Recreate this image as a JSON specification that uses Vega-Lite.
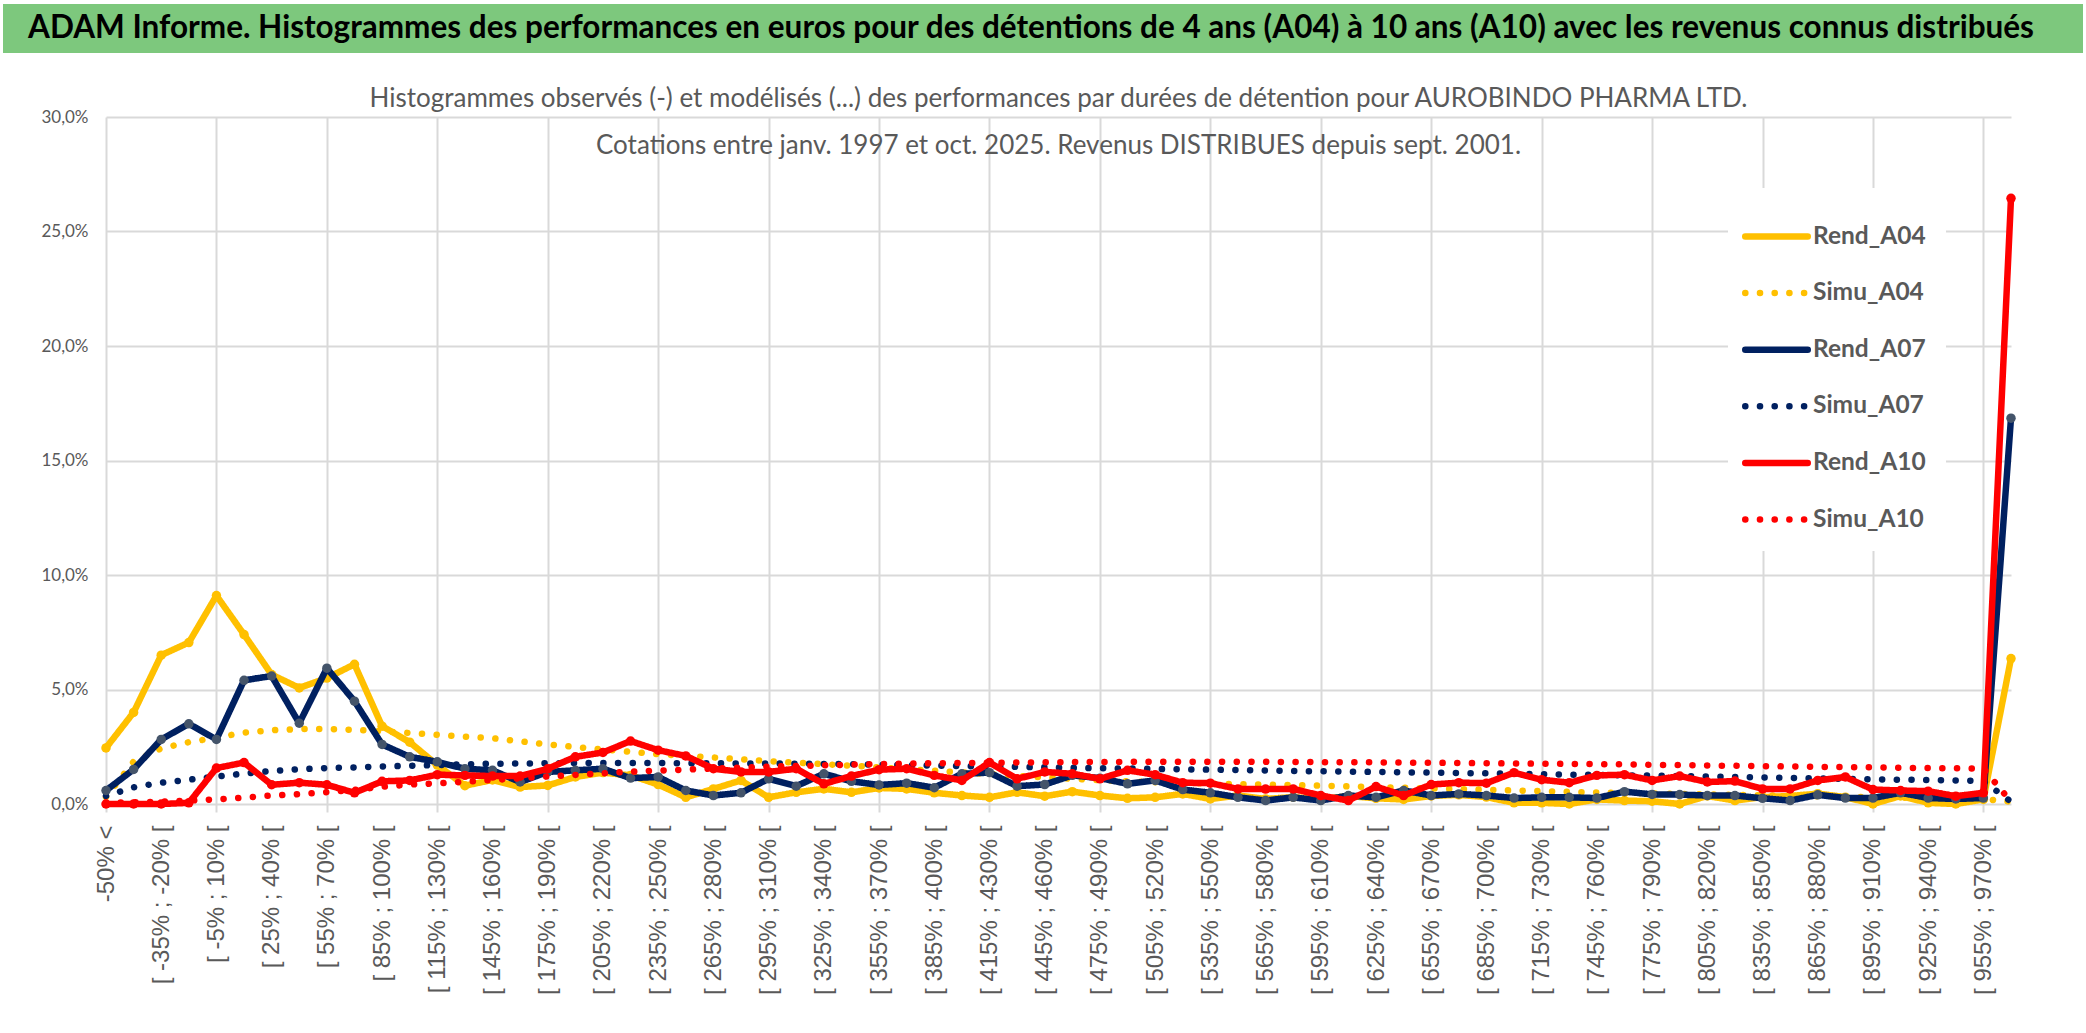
{
  "$schema": "https://vega.github.io/schema/vega-lite/v6.json",
  "background": "white",
  "padding": {"left": 3, "right": 3, "top": 4, "bottom": 5},
  "spacing": 33,
  "config": {
    "view": {"stroke": null},
    "font": "Lato",
    "line": {"strokeWidth": 6.5, "strokeCap": "round", "strokeJoin": "round"},
    "circle": {"size": 90, "opacity": 1},
    "legend": {
      "title": null,
      "padding": 20,
      "fillColor": "white",
      "symbolType": "M-1.25,0L1.25,0",
      "symbolSize": 2500,
      "symbolStrokeWidth": 6.5,
      "labelFont": "Lato",
      "labelFontSize": 24.5,
      "labelFontWeight": "bold",
      "labelColor": "#595959",
      "labelOffset": 8,
      "rowPadding": 16.6
    }
  },
  "vconcat": [
    {
      "width": 2080,
      "height": 49,
      "view": {"fill": "#7DC87D", "stroke": null},
      "data": {"values": [{"t": "ADAM Informe. Histogrammes des performances en euros pour des détentions de 4 ans (A04) à 10 ans (A10) avec les revenus connus distribués"}]},
      "mark": {"type": "text", "font": "Lato", "fontWeight": "bold", "fontSize": 31.5, "color": "black", "align": "center", "baseline": "middle", "dx": -12},
      "encoding": {"text": {"field": "t", "type": "nominal"}}
    },
    {
      "spacing": 8,
      "hconcat": [
        {
          "width": 1,
          "height": 1,
          "data": {"values": []},
          "mark": "rect"
        },
        {
          "width": 1905,
          "height": 687,
          "title": {
            "text": ["Histogrammes observés (-) et modélisés (...) des performances par durées de détention pour AUROBINDO PHARMA LTD.", "Cotations entre janv. 1997 et oct. 2025. Revenus DISTRIBUES depuis sept. 2001."],
            "font": "Lato",
            "fontSize": 26,
            "fontWeight": "normal",
            "color": "#595959",
            "lineHeight": 47,
            "anchor": "middle",
            "offset": -51
          },
          "data": {"values": [
            {"i": 0, "cat": "-50% <", "Rend_A04": 2.45, "Simu_A04": 0.3, "Rend_A07": 0.59, "Simu_A07": 0.35, "Rend_A10": 0, "Simu_A10": 0.05},
            {"i": 1, "cat": "[ -50% ; -35% [", "Rend_A04": 4.0, "Simu_A04": 1.85, "Rend_A07": 1.51, "Simu_A07": 0.73, "Rend_A10": 0, "Simu_A10": 0.08},
            {"i": 2, "cat": "[ -35% ; -20% [", "Rend_A04": 6.5, "Simu_A04": 2.43, "Rend_A07": 2.82, "Simu_A07": 0.93, "Rend_A10": 0, "Simu_A10": 0.1},
            {"i": 3, "cat": "[ -20% ; -5% [", "Rend_A04": 7.05, "Simu_A04": 2.7, "Rend_A07": 3.5, "Simu_A07": 1.06, "Rend_A10": 0.05, "Simu_A10": 0.15},
            {"i": 4, "cat": "[ -5% ; 10% [", "Rend_A04": 9.1, "Simu_A04": 2.9, "Rend_A07": 2.82, "Simu_A07": 1.2, "Rend_A10": 1.57, "Simu_A10": 0.2},
            {"i": 5, "cat": "[ 10% ; 25% [", "Rend_A04": 7.4, "Simu_A04": 3.12, "Rend_A07": 5.4, "Simu_A07": 1.33, "Rend_A10": 1.81, "Simu_A10": 0.28},
            {"i": 6, "cat": "[ 25% ; 40% [", "Rend_A04": 5.65, "Simu_A04": 3.22, "Rend_A07": 5.59, "Simu_A07": 1.44, "Rend_A10": 0.84, "Simu_A10": 0.37},
            {"i": 7, "cat": "[ 40% ; 55% [", "Rend_A04": 5.07, "Simu_A04": 3.27, "Rend_A07": 3.53, "Simu_A07": 1.52, "Rend_A10": 0.93, "Simu_A10": 0.43},
            {"i": 8, "cat": "[ 55% ; 70% [", "Rend_A04": 5.5, "Simu_A04": 3.27, "Rend_A07": 5.93, "Simu_A07": 1.57, "Rend_A10": 0.84, "Simu_A10": 0.52},
            {"i": 9, "cat": "[ 70% ; 85% [", "Rend_A04": 6.1, "Simu_A04": 3.24, "Rend_A07": 4.49, "Simu_A07": 1.6, "Rend_A10": 0.49, "Simu_A10": 0.62},
            {"i": 10, "cat": "[ 85% ; 100% [", "Rend_A04": 3.4, "Simu_A04": 3.17, "Rend_A07": 2.6, "Simu_A07": 1.64, "Rend_A10": 0.99, "Simu_A10": 0.75},
            {"i": 11, "cat": "[ 100% ; 115% [", "Rend_A04": 2.7, "Simu_A04": 3.1, "Rend_A07": 2.06, "Simu_A07": 1.67, "Rend_A10": 1.03, "Simu_A10": 0.85},
            {"i": 12, "cat": "[ 115% ; 130% [", "Rend_A04": 1.7, "Simu_A04": 3.02, "Rend_A07": 1.84, "Simu_A07": 1.7, "Rend_A10": 1.28, "Simu_A10": 0.9},
            {"i": 13, "cat": "[ 130% ; 145% [", "Rend_A04": 0.8, "Simu_A04": 2.94, "Rend_A07": 1.54, "Simu_A07": 1.73, "Rend_A10": 1.25, "Simu_A10": 0.97},
            {"i": 14, "cat": "[ 145% ; 160% [", "Rend_A04": 1.05, "Simu_A04": 2.87, "Rend_A07": 1.47, "Simu_A07": 1.76, "Rend_A10": 1.22, "Simu_A10": 1.05},
            {"i": 15, "cat": "[ 160% ; 175% [", "Rend_A04": 0.74, "Simu_A04": 2.74, "Rend_A07": 0.96, "Simu_A07": 1.77, "Rend_A10": 1.22, "Simu_A10": 1.12},
            {"i": 16, "cat": "[ 175% ; 190% [", "Rend_A04": 0.81, "Simu_A04": 2.6, "Rend_A07": 1.4, "Simu_A07": 1.78, "Rend_A10": 1.54, "Simu_A10": 1.2},
            {"i": 17, "cat": "[ 190% ; 205% [", "Rend_A04": 1.18, "Simu_A04": 2.49, "Rend_A07": 1.47, "Simu_A07": 1.79, "Rend_A10": 2.06, "Simu_A10": 1.27},
            {"i": 18, "cat": "[ 205% ; 220% [", "Rend_A04": 1.37, "Simu_A04": 2.38, "Rend_A07": 1.54, "Simu_A07": 1.79, "Rend_A10": 2.25, "Simu_A10": 1.34},
            {"i": 19, "cat": "[ 220% ; 235% [", "Rend_A04": 1.25, "Simu_A04": 2.28, "Rend_A07": 1.13, "Simu_A07": 1.79, "Rend_A10": 2.75, "Simu_A10": 1.41},
            {"i": 20, "cat": "[ 235% ; 250% [", "Rend_A04": 0.85, "Simu_A04": 2.18, "Rend_A07": 1.18, "Simu_A07": 1.79, "Rend_A10": 2.35, "Simu_A10": 1.46},
            {"i": 21, "cat": "[ 250% ; 265% [", "Rend_A04": 0.29, "Simu_A04": 2.1, "Rend_A07": 0.59, "Simu_A07": 1.78, "Rend_A10": 2.1, "Simu_A10": 1.5},
            {"i": 22, "cat": "[ 265% ; 280% [", "Rend_A04": 0.66, "Simu_A04": 2.03, "Rend_A07": 0.37, "Simu_A07": 1.78, "Rend_A10": 1.54, "Simu_A10": 1.55},
            {"i": 23, "cat": "[ 280% ; 295% [", "Rend_A04": 1.03, "Simu_A04": 1.95, "Rend_A07": 0.49, "Simu_A07": 1.77, "Rend_A10": 1.4, "Simu_A10": 1.59},
            {"i": 24, "cat": "[ 295% ; 310% [", "Rend_A04": 0.29, "Simu_A04": 1.87, "Rend_A07": 1.1, "Simu_A07": 1.77, "Rend_A10": 1.4, "Simu_A10": 1.63},
            {"i": 25, "cat": "[ 310% ; 325% [", "Rend_A04": 0.51, "Simu_A04": 1.8, "Rend_A07": 0.78, "Simu_A07": 1.76, "Rend_A10": 1.54, "Simu_A10": 1.66},
            {"i": 26, "cat": "[ 325% ; 340% [", "Rend_A04": 0.66, "Simu_A04": 1.74, "Rend_A07": 1.32, "Simu_A07": 1.75, "Rend_A10": 0.88, "Simu_A10": 1.69},
            {"i": 27, "cat": "[ 340% ; 355% [", "Rend_A04": 0.51, "Simu_A04": 1.67, "Rend_A07": 0.99, "Simu_A07": 1.74, "Rend_A10": 1.22, "Simu_A10": 1.72},
            {"i": 28, "cat": "[ 355% ; 370% [", "Rend_A04": 0.7, "Simu_A04": 1.6, "Rend_A07": 0.83, "Simu_A07": 1.72, "Rend_A10": 1.5, "Simu_A10": 1.74},
            {"i": 29, "cat": "[ 370% ; 385% [", "Rend_A04": 0.66, "Simu_A04": 1.52, "Rend_A07": 0.91, "Simu_A07": 1.7, "Rend_A10": 1.54, "Simu_A10": 1.76},
            {"i": 30, "cat": "[ 385% ; 400% [", "Rend_A04": 0.49, "Simu_A04": 1.45, "Rend_A07": 0.71, "Simu_A07": 1.68, "Rend_A10": 1.25, "Simu_A10": 1.78},
            {"i": 31, "cat": "[ 400% ; 415% [", "Rend_A04": 0.37, "Simu_A04": 1.38, "Rend_A07": 1.32, "Simu_A07": 1.66, "Rend_A10": 1.03, "Simu_A10": 1.79},
            {"i": 32, "cat": "[ 415% ; 430% [", "Rend_A04": 0.29, "Simu_A04": 1.3, "Rend_A07": 1.37, "Simu_A07": 1.64, "Rend_A10": 1.81, "Simu_A10": 1.8},
            {"i": 33, "cat": "[ 430% ; 445% [", "Rend_A04": 0.51, "Simu_A04": 1.23, "Rend_A07": 0.78, "Simu_A07": 1.62, "Rend_A10": 1.1, "Simu_A10": 1.81},
            {"i": 34, "cat": "[ 445% ; 460% [", "Rend_A04": 0.34, "Simu_A04": 1.16, "Rend_A07": 0.85, "Simu_A07": 1.6, "Rend_A10": 1.4, "Simu_A10": 1.82},
            {"i": 35, "cat": "[ 460% ; 475% [", "Rend_A04": 0.54, "Simu_A04": 1.1, "Rend_A07": 1.25, "Simu_A07": 1.58, "Rend_A10": 1.32, "Simu_A10": 1.83},
            {"i": 36, "cat": "[ 475% ; 490% [", "Rend_A04": 0.37, "Simu_A04": 1.04, "Rend_A07": 1.13, "Simu_A07": 1.56, "Rend_A10": 1.1, "Simu_A10": 1.83},
            {"i": 37, "cat": "[ 490% ; 505% [", "Rend_A04": 0.25, "Simu_A04": 0.99, "Rend_A07": 0.88, "Simu_A07": 1.55, "Rend_A10": 1.47, "Simu_A10": 1.84},
            {"i": 38, "cat": "[ 505% ; 520% [", "Rend_A04": 0.29, "Simu_A04": 0.95, "Rend_A07": 1.03, "Simu_A07": 1.53, "Rend_A10": 1.28, "Simu_A10": 1.84},
            {"i": 39, "cat": "[ 520% ; 535% [", "Rend_A04": 0.44, "Simu_A04": 0.92, "Rend_A07": 0.63, "Simu_A07": 1.51, "Rend_A10": 0.93, "Simu_A10": 1.84},
            {"i": 40, "cat": "[ 535% ; 550% [", "Rend_A04": 0.22, "Simu_A04": 0.89, "Rend_A07": 0.49, "Simu_A07": 1.5, "Rend_A10": 0.91, "Simu_A10": 1.84},
            {"i": 41, "cat": "[ 550% ; 565% [", "Rend_A04": 0.37, "Simu_A04": 0.87, "Rend_A07": 0.29, "Simu_A07": 1.48, "Rend_A10": 0.66, "Simu_A10": 1.84},
            {"i": 42, "cat": "[ 565% ; 580% [", "Rend_A04": 0.22, "Simu_A04": 0.85, "Rend_A07": 0.15, "Simu_A07": 1.46, "Rend_A10": 0.65, "Simu_A10": 1.84},
            {"i": 43, "cat": "[ 580% ; 595% [", "Rend_A04": 0.3, "Simu_A04": 0.82, "Rend_A07": 0.29, "Simu_A07": 1.44, "Rend_A10": 0.66, "Simu_A10": 1.83},
            {"i": 44, "cat": "[ 595% ; 610% [", "Rend_A04": 0.2, "Simu_A04": 0.8, "Rend_A07": 0.15, "Simu_A07": 1.43, "Rend_A10": 0.37, "Simu_A10": 1.83},
            {"i": 45, "cat": "[ 610% ; 625% [", "Rend_A04": 0.35, "Simu_A04": 0.77, "Rend_A07": 0.37, "Simu_A07": 1.41, "Rend_A10": 0.15, "Simu_A10": 1.82},
            {"i": 46, "cat": "[ 625% ; 640% [", "Rend_A04": 0.25, "Simu_A04": 0.74, "Rend_A07": 0.29, "Simu_A07": 1.4, "Rend_A10": 0.76, "Simu_A10": 1.82},
            {"i": 47, "cat": "[ 640% ; 655% [", "Rend_A04": 0.2, "Simu_A04": 0.71, "Rend_A07": 0.59, "Simu_A07": 1.38, "Rend_A10": 0.37, "Simu_A10": 1.81},
            {"i": 48, "cat": "[ 655% ; 670% [", "Rend_A04": 0.35, "Simu_A04": 0.68, "Rend_A07": 0.37, "Simu_A07": 1.37, "Rend_A10": 0.85, "Simu_A10": 1.8},
            {"i": 49, "cat": "[ 670% ; 685% [", "Rend_A04": 0.4, "Simu_A04": 0.65, "Rend_A07": 0.44, "Simu_A07": 1.35, "Rend_A10": 0.93, "Simu_A10": 1.79},
            {"i": 50, "cat": "[ 685% ; 700% [", "Rend_A04": 0.3, "Simu_A04": 0.62, "Rend_A07": 0.37, "Simu_A07": 1.34, "Rend_A10": 0.91, "Simu_A10": 1.78},
            {"i": 51, "cat": "[ 700% ; 715% [", "Rend_A04": 0.05, "Simu_A04": 0.59, "Rend_A07": 0.26, "Simu_A07": 1.32, "Rend_A10": 1.37, "Simu_A10": 1.77},
            {"i": 52, "cat": "[ 715% ; 730% [", "Rend_A04": 0.05, "Simu_A04": 0.56, "Rend_A07": 0.29, "Simu_A07": 1.3, "Rend_A10": 1.06, "Simu_A10": 1.76},
            {"i": 53, "cat": "[ 730% ; 745% [", "Rend_A04": 0.0, "Simu_A04": 0.53, "Rend_A07": 0.29, "Simu_A07": 1.28, "Rend_A10": 0.93, "Simu_A10": 1.75},
            {"i": 54, "cat": "[ 745% ; 760% [", "Rend_A04": 0.2, "Simu_A04": 0.5, "Rend_A07": 0.26, "Simu_A07": 1.27, "Rend_A10": 1.25, "Simu_A10": 1.74},
            {"i": 55, "cat": "[ 760% ; 775% [", "Rend_A04": 0.15, "Simu_A04": 0.48, "Rend_A07": 0.54, "Simu_A07": 1.25, "Rend_A10": 1.28, "Simu_A10": 1.73},
            {"i": 56, "cat": "[ 775% ; 790% [", "Rend_A04": 0.12, "Simu_A04": 0.46, "Rend_A07": 0.42, "Simu_A07": 1.24, "Rend_A10": 1.03, "Simu_A10": 1.71},
            {"i": 57, "cat": "[ 790% ; 805% [", "Rend_A04": 0.0, "Simu_A04": 0.44, "Rend_A07": 0.41, "Simu_A07": 1.22, "Rend_A10": 1.22, "Simu_A10": 1.7},
            {"i": 58, "cat": "[ 805% ; 820% [", "Rend_A04": 0.35, "Simu_A04": 0.42, "Rend_A07": 0.37, "Simu_A07": 1.2, "Rend_A10": 0.96, "Simu_A10": 1.68},
            {"i": 59, "cat": "[ 820% ; 835% [", "Rend_A04": 0.15, "Simu_A04": 0.4, "Rend_A07": 0.37, "Simu_A07": 1.18, "Rend_A10": 1.0, "Simu_A10": 1.67},
            {"i": 60, "cat": "[ 835% ; 850% [", "Rend_A04": 0.3, "Simu_A04": 0.38, "Rend_A07": 0.25, "Simu_A07": 1.16, "Rend_A10": 0.66, "Simu_A10": 1.65},
            {"i": 61, "cat": "[ 850% ; 865% [", "Rend_A04": 0.35, "Simu_A04": 0.36, "Rend_A07": 0.15, "Simu_A07": 1.14, "Rend_A10": 0.66, "Simu_A10": 1.64},
            {"i": 62, "cat": "[ 865% ; 880% [", "Rend_A04": 0.45, "Simu_A04": 0.34, "Rend_A07": 0.4, "Simu_A07": 1.12, "Rend_A10": 1.03, "Simu_A10": 1.62},
            {"i": 63, "cat": "[ 880% ; 895% [", "Rend_A04": 0.3, "Simu_A04": 0.32, "Rend_A07": 0.26, "Simu_A07": 1.1, "Rend_A10": 1.18, "Simu_A10": 1.61},
            {"i": 64, "cat": "[ 895% ; 910% [", "Rend_A04": 0.0, "Simu_A04": 0.3, "Rend_A07": 0.26, "Simu_A07": 1.08, "Rend_A10": 0.63, "Simu_A10": 1.6},
            {"i": 65, "cat": "[ 910% ; 925% [", "Rend_A04": 0.35, "Simu_A04": 0.28, "Rend_A07": 0.49, "Simu_A07": 1.06, "Rend_A10": 0.59, "Simu_A10": 1.58},
            {"i": 66, "cat": "[ 925% ; 940% [", "Rend_A04": 0.05, "Simu_A04": 0.26, "Rend_A07": 0.26, "Simu_A07": 1.05, "Rend_A10": 0.56, "Simu_A10": 1.57},
            {"i": 67, "cat": "[ 940% ; 955% [", "Rend_A04": 0.0, "Simu_A04": 0.24, "Rend_A07": 0.22, "Simu_A07": 1.03, "Rend_A10": 0.34, "Simu_A10": 1.56},
            {"i": 68, "cat": "[ 955% ; 970% [", "Rend_A04": 0.2, "Simu_A04": 0.22, "Rend_A07": 0.26, "Simu_A07": 1.0, "Rend_A10": 0.49, "Simu_A10": 1.55},
            {"i": 69, "cat": "970% >", "Rend_A04": 6.35, "Simu_A04": 0.1, "Rend_A07": 16.85, "Simu_A07": 0.1, "Rend_A10": 26.45, "Simu_A10": 0.1}
          ]},
          "transform": [
            {"fold": ["Rend_A04", "Simu_A04", "Rend_A07", "Simu_A07", "Rend_A10", "Simu_A10"], "as": ["serie", "pct"]}
          ],
          "encoding": {
            "x": {
              "field": "cat",
              "type": "ordinal",
              "sort": {"field": "i", "op": "min", "order": "ascending"},
              "scale": {"type": "point", "padding": 0},
              "axis": {
                "title": null,
                "labelAngle": -90,
                "labelFont": "Liberation Sans",
                "labelFontSize": 24,
                "labelColor": "#595959",
                "labelPadding": 13,
                "labelOverlap": false,
                "labelBound": false,
                "labelFlush": false,
                "labelExpr": "round(datum.index * 69) % 2 === 0 ? datum.label : ''",
                "domain": false,
                "ticks": true,
                "tickSize": 8,
                "tickWidth": 2,
                "tickColor": "#D9D9D9",
                "tickOpacity": {"condition": {"test": "round(datum.index * 69) % 4 === 0", "value": 1}, "value": 0},
                "grid": true,
                "gridColor": "#D9D9D9",
                "gridWidth": 2,
                "gridOpacity": {"condition": {"test": "round(datum.index * 69) % 4 === 0", "value": 1}, "value": 0}
              }
            },
            "y": {
              "field": "pct",
              "type": "quantitative",
              "scale": {"domain": [0, 30], "nice": false},
              "axis": {
                "title": null,
                "values": [0, 5, 10, 15, 20, 25, 30],
                "labelExpr": "replace(format(datum.value, '.1f'), '.', ',') + '%'",
                "labelFont": "Lato",
                "labelFontSize": 17,
                "labelColor": "#595959",
                "labelPadding": 18,
                "domain": false,
                "ticks": false,
                "grid": true,
                "gridColor": "#D9D9D9",
                "gridWidth": 2,
                "minExtent": 94,
                "maxExtent": 94
              }
            }
          },
          "layer": [
            {
              "transform": [{"filter": {"field": "serie", "oneOf": ["Rend_A04", "Simu_A04"]}}],
              "mark": "line",
              "encoding": {
                "order": {"field": "i", "type": "quantitative"},
                "color": {
                  "field": "serie", "type": "nominal",
                  "scale": {"domain": ["Rend_A04", "Simu_A04", "Rend_A07", "Simu_A07", "Rend_A10", "Simu_A10"], "range": ["#FFC000", "#FFC000", "#002060", "#002060", "#FF0000", "#FF0000"]},
                  "legend": {"orient": "none", "legendX": 1725, "legendY": 184, "encoding": {"symbols": {"strokeCap": {"value": "round"}}}}
                },
                "strokeDash": {
                  "field": "serie", "type": "nominal",
                  "scale": {"domain": ["Rend_A04", "Simu_A04", "Rend_A07", "Simu_A07", "Rend_A10", "Simu_A10"], "range": [[1, 0], [0.1, 14.6], [1, 0], [0.1, 14.6], [1, 0], [0.1, 14.6]]},
                  "legend": {"orient": "none", "legendX": 1725, "legendY": 184, "encoding": {"symbols": {"strokeCap": {"value": "round"}}}}
                }
              }
            },
            {
              "transform": [{"filter": {"field": "serie", "equal": "Rend_A04"}}],
              "mark": {"type": "circle", "color": "#FFC000"}
            },
            {
              "transform": [{"filter": {"field": "serie", "oneOf": ["Rend_A07", "Simu_A07"]}}],
              "mark": "line",
              "encoding": {
                "order": {"field": "i", "type": "quantitative"},
                "color": {
                  "field": "serie", "type": "nominal",
                  "scale": {"domain": ["Rend_A04", "Simu_A04", "Rend_A07", "Simu_A07", "Rend_A10", "Simu_A10"], "range": ["#FFC000", "#FFC000", "#002060", "#002060", "#FF0000", "#FF0000"]},
                  "legend": {"orient": "none", "legendX": 1725, "legendY": 184, "encoding": {"symbols": {"strokeCap": {"value": "round"}}}}
                },
                "strokeDash": {
                  "field": "serie", "type": "nominal",
                  "scale": {"domain": ["Rend_A04", "Simu_A04", "Rend_A07", "Simu_A07", "Rend_A10", "Simu_A10"], "range": [[1, 0], [0.1, 14.6], [1, 0], [0.1, 14.6], [1, 0], [0.1, 14.6]]},
                  "legend": {"orient": "none", "legendX": 1725, "legendY": 184, "encoding": {"symbols": {"strokeCap": {"value": "round"}}}}
                }
              }
            },
            {
              "transform": [{"filter": {"field": "serie", "equal": "Rend_A07"}}],
              "mark": {"type": "circle", "color": "#44546A"}
            },
            {
              "transform": [{"filter": {"field": "serie", "oneOf": ["Rend_A10", "Simu_A10"]}}],
              "mark": "line",
              "encoding": {
                "order": {"field": "i", "type": "quantitative"},
                "color": {
                  "field": "serie", "type": "nominal",
                  "scale": {"domain": ["Rend_A04", "Simu_A04", "Rend_A07", "Simu_A07", "Rend_A10", "Simu_A10"], "range": ["#FFC000", "#FFC000", "#002060", "#002060", "#FF0000", "#FF0000"]},
                  "legend": {"orient": "none", "legendX": 1725, "legendY": 184, "encoding": {"symbols": {"strokeCap": {"value": "round"}}}}
                },
                "strokeDash": {
                  "field": "serie", "type": "nominal",
                  "scale": {"domain": ["Rend_A04", "Simu_A04", "Rend_A07", "Simu_A07", "Rend_A10", "Simu_A10"], "range": [[1, 0], [0.1, 14.6], [1, 0], [0.1, 14.6], [1, 0], [0.1, 14.6]]},
                  "legend": {"orient": "none", "legendX": 1725, "legendY": 184, "encoding": {"symbols": {"strokeCap": {"value": "round"}}}}
                }
              }
            },
            {
              "transform": [{"filter": {"field": "serie", "equal": "Rend_A10"}}],
              "mark": {"type": "circle", "color": "#FF0000"}
            }
          ]
        }
      ]
    }
  ]
}
